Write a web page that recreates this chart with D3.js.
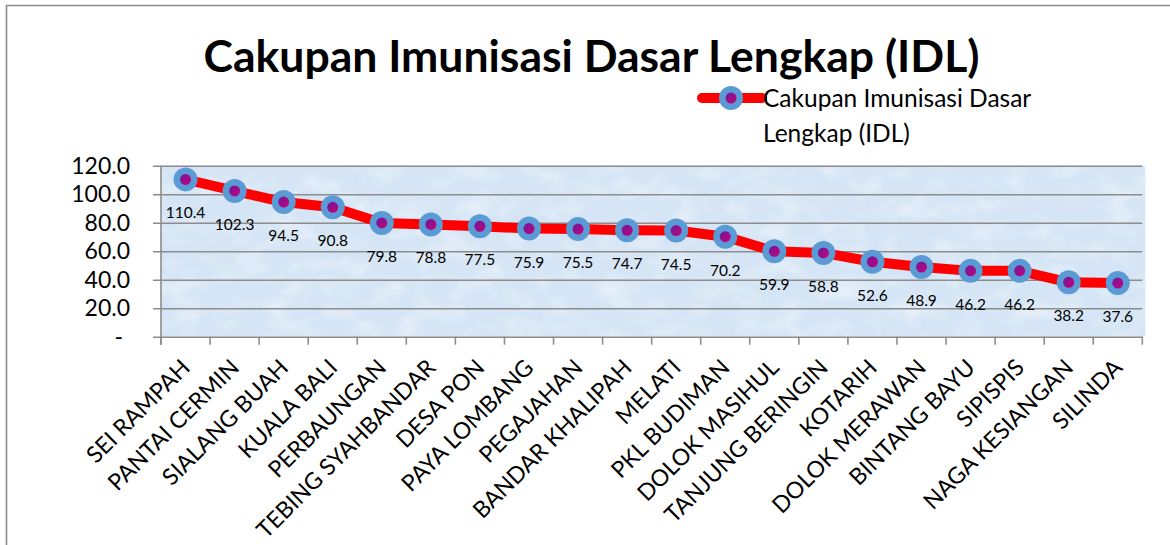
<!DOCTYPE html>
<html>
<head>
<meta charset="utf-8">
<script src="https://cdn.jsdelivr.net/npm/d3@7"></script>
<style>
  body { margin: 0; background: #fff; }
  text { font-family: Lato, "Open Sans", sans-serif; fill: #000; }
</style>
</head>
<body>
<div class="canvas"></div>
<script>
// data
const seriesName = "Cakupan Imunisasi Dasar Lengkap (IDL)";
const categories = [
  "SEI RAMPAH", "PANTAI CERMIN", "SIALANG BUAH", "KUALA BALI", "PERBAUNGAN",
  "TEBING SYAHBANDAR", "DESA PON", "PAYA LOMBANG", "PEGAJAHAN", "BANDAR KHALIPAH",
  "MELATI", "PKL BUDIMAN", "DOLOK MASIHUL", "TANJUNG BERINGIN", "KOTARIH",
  "DOLOK MERAWAN", "BINTANG BAYU", "SIPISPIS", "NAGA KESIANGAN", "SILINDA"
];
const values = [
  110.4, 102.3, 94.5, 90.8, 79.8, 78.8, 77.5, 75.9, 75.5, 74.7,
  74.5, 70.2, 59.9, 58.8, 52.6, 48.9, 46.2, 46.2, 38.2, 37.6
];
const yTicks = [0, 20, 40, 60, 80, 100, 120];

// dimensions
const dims = { width: 1170, height: 545 };
const plot = { left: 161, right: 1142.3, top: 165.7, bottom: 336.7 };

const svg = d3.select(".canvas")
  .append("svg")
  .attr("width", dims.width)
  .attr("height", dims.height);

const defs = svg.append("defs");

// texture for the plot area
const tex = defs.append("filter")
  .attr("id", "tex")
  .attr("x", 0).attr("y", 0).attr("width", 1).attr("height", 1);
tex.append("feTurbulence")
  .attr("type", "fractalNoise")
  .attr("baseFrequency", "0.03 0.05")
  .attr("numOctaves", 3)
  .attr("seed", 7);
tex.append("feColorMatrix")
  .attr("type", "matrix")
  .attr("values", "0 0 0 0 1  0 0 0 0 1  0 0 0 0 1  0 0 0 1.6 -0.7");
tex.append("feComposite").attr("in2", "SourceGraphic").attr("operator", "in");

// marker dot gradient
const grad = defs.append("linearGradient")
  .attr("id", "dot")
  .attr("x1", 0).attr("y1", 0).attr("x2", 1).attr("y2", 1);
grad.append("stop").attr("offset", "0%").attr("stop-color", "#6a1b9a");
grad.append("stop").attr("offset", "100%").attr("stop-color", "#c8007a");

// outer frame
svg.append("path")
  .attr("d", `M6.5,${dims.height} V5.5 H${dims.width}`)
  .attr("fill", "none")
  .attr("stroke", "#8a8a8a")
  .attr("stroke-width", 1.6);

// scales
const x = d3.scaleBand().domain(categories).range([plot.left, plot.right]);
const y = d3.scaleLinear().domain([0, 120]).range([plot.bottom, plot.top]);

// plot background
svg.append("rect")
  .attr("x", plot.left).attr("y", plot.top)
  .attr("width", plot.right - plot.left + 3)
  .attr("height", plot.bottom - plot.top)
  .attr("fill", "#d5e5f5");
svg.append("rect")
  .attr("x", plot.left).attr("y", plot.top)
  .attr("width", plot.right - plot.left + 3)
  .attr("height", plot.bottom - plot.top)
  .attr("fill", "#fff")
  .attr("opacity", 0.55)
  .attr("filter", "url(#tex)");

// gridlines + y labels
const yAxis = svg.append("g")
  .attr("transform", `translate(153,0)`)
  .call(
    d3.axisLeft(y)
      .tickValues(yTicks)
      .tickSizeInner(-(plot.right - 153))
      .tickSizeOuter(0)
      .tickPadding(23)
      .tickFormat((d) => (d === 0 ? "-" : d3.format(".1f")(d)))
  );
yAxis.select(".domain").remove();
yAxis.selectAll("line").attr("stroke", "#8c8c8c").attr("stroke-width", 1.6);
yAxis.selectAll("text")
  .attr("font-size", 23)
  .attr("font-family", "Lato")
  .attr("fill", "#000")
  .attr("dx", (d) => (d === 0 ? -7 : 0));

// y axis line
svg.append("line")
  .attr("x1", plot.left).attr("x2", plot.left)
  .attr("y1", plot.top).attr("y2", plot.bottom + 8)
  .attr("stroke", "#8c8c8c").attr("stroke-width", 1.6);

// x ticks at category boundaries
const bounds = categories.map((c) => x(c)).concat([plot.right]);
svg.append("g")
  .selectAll("line")
  .data(bounds)
  .enter()
  .append("line")
  .attr("x1", (d) => d).attr("x2", (d) => d)
  .attr("y1", plot.bottom).attr("y2", plot.bottom + 8)
  .attr("stroke", "#8c8c8c").attr("stroke-width", 1.6);

// x labels (rotated)
svg.append("g")
  .selectAll("text")
  .data(categories)
  .enter()
  .append("text")
  .attr("transform", (d) => `translate(${x(d) + x.bandwidth() / 2 + 6},369) rotate(-45)`)
  .attr("text-anchor", "end")
  .attr("font-size", 23)
  .text((d) => d);

// line
const cx = (i) => x(categories[i]) + x.bandwidth() / 2;
const line = d3.line()
  .x((d, i) => cx(i))
  .y((d) => y(d));
svg.append("path")
  .datum(values)
  .attr("d", line)
  .attr("fill", "none")
  .attr("stroke", "#ff0000")
  .attr("stroke-width", 10)
  .attr("stroke-linejoin", "round");

// markers
const pts = svg.append("g")
  .selectAll("g")
  .data(values)
  .enter()
  .append("g")
  .attr("transform", (d, i) => `translate(${cx(i)},${y(d)})`);
pts.append("circle").attr("r", 12).attr("fill", "#5b9bd5");
pts.append("circle").attr("r", 5.5).attr("fill", "url(#dot)");

// data labels
svg.append("g")
  .selectAll("text")
  .data(values)
  .enter()
  .append("text")
  .attr("x", (d, i) => cx(i))
  .attr("y", (d) => y(d) + 39)
  .attr("text-anchor", "middle")
  .attr("font-size", 15.5)
  .text((d) => d3.format(".1f")(d));

// title
svg.append("text")
  .attr("x", 591.5)
  .attr("y", 72)
  .attr("text-anchor", "middle")
  .attr("font-size", 44.5)
  .attr("font-weight", "bold")
  .text(seriesName);

// legend
const legend = svg.append("g");
legend.append("line")
  .attr("x1", 702).attr("x2", 762)
  .attr("y1", 98).attr("y2", 98)
  .attr("stroke", "#ff0000").attr("stroke-width", 10)
  .attr("stroke-linecap", "round");
legend.append("circle").attr("cx", 731).attr("cy", 98).attr("r", 12).attr("fill", "#5b9bd5");
legend.append("circle").attr("cx", 731).attr("cy", 98).attr("r", 5.5).attr("fill", "url(#dot)");
const legendText = legend.append("text")
  .attr("x", 763)
  .attr("font-size", 24.5);
legendText.append("tspan").attr("x", 763).attr("y", 107).text("Cakupan Imunisasi Dasar");
legendText.append("tspan").attr("x", 763).attr("y", 142).text("Lengkap (IDL)");
</script>
</body>
</html>
